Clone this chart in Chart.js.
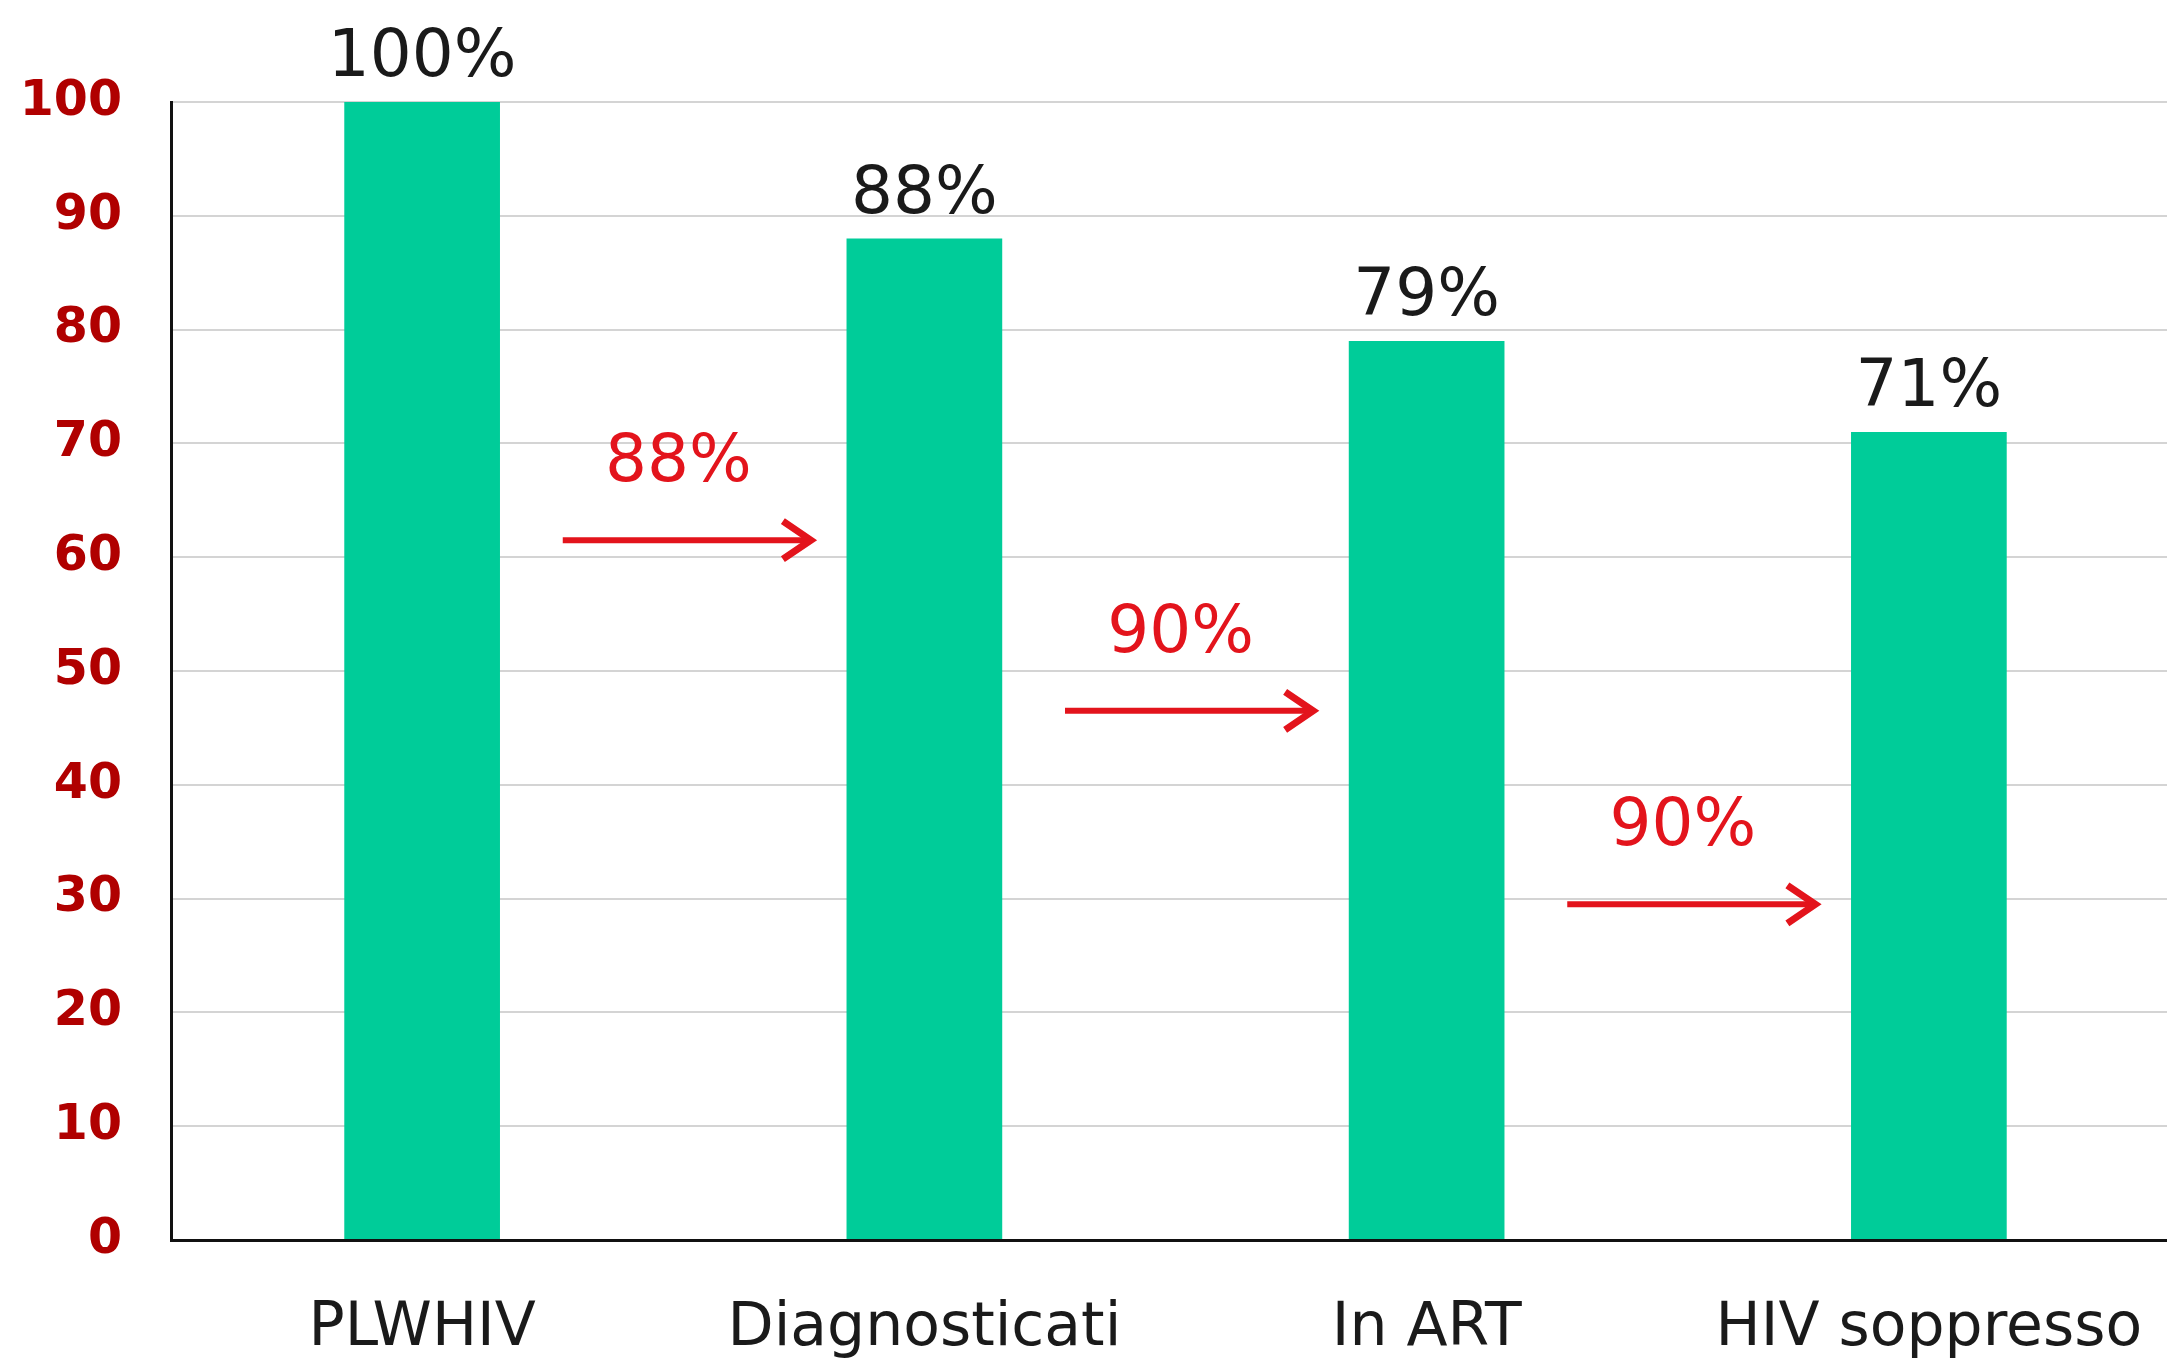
<!DOCTYPE html>
<html>
<head>
<meta charset="utf-8">
<script src="https://cdn.jsdelivr.net/npm/chart.js@4/dist/chart.umd.min.js"></script>
<style>
  html, body { margin: 0; padding: 0; background: #fff; overflow: hidden; }
  canvas { display: block; }
</style>
</head>
<body>
<!-- a little wider than the window: the plot runs past the right edge, as in the original -->
<canvas id="graficoCascata" width="2180" height="1359"></canvas>
<script>
const categorie = ['PLWHIV', 'Diagnosticati', 'In ART', 'HIV soppresso'];
const percentuali = [100, 88, 79, 71];
const passaggi = ['88%', '90%', '90%'];
// height (in % units) where each red arrow sits
const livelliFrecce = [61.5, 46.5, 29.5];
const tickY = [0, 10, 20, 30, 40, 50, 60, 70, 80, 90, 100];

const rosso = '#e3141c';
const fontBase = 'DejaVu Sans, Verdana, sans-serif';

const etichette = {
  id: 'etichette',
  afterDatasetsDraw(chart) {
    const ctx = chart.ctx;
    const meta = chart.getDatasetMeta(0);
    const x = chart.scales.x;
    const y = chart.scales.y;
    ctx.save();
    // value labels above bars
    ctx.fillStyle = '#1a1a1a';
    ctx.font = '66px ' + fontBase;
    ctx.textAlign = 'center';
    ctx.textBaseline = 'alphabetic';
    meta.data.forEach(function(bar, i) {
      ctx.fillText(percentuali[i] + '%', bar.x, bar.y - 26);
    });
    // arrows between bars
    ctx.strokeStyle = rosso;
    ctx.fillStyle = rosso;
    ctx.lineCap = 'butt';
    ctx.lineJoin = 'miter';
    passaggi.forEach(function(testo, i) {
      const x1 = x.getPixelForValue(i + 0.28);
      const x2 = x.getPixelForValue(i + 0.78);
      const yy = y.getPixelForValue(livelliFrecce[i]);
      ctx.lineWidth = 6;
      ctx.beginPath();
      ctx.moveTo(x1, yy);
      ctx.lineTo(x2 - 4, yy);
      ctx.stroke();
      ctx.lineWidth = 7;
      ctx.beginPath();
      ctx.moveTo(x2 - 31, yy - 19);
      ctx.lineTo(x2 - 3, yy);
      ctx.lineTo(x2 - 31, yy + 19);
      ctx.stroke();
      ctx.fillText(testo, x.getPixelForValue(i + 0.51), yy - 59);
    });
    ctx.restore();
  }
};

new Chart(document.getElementById('graficoCascata').getContext('2d'), {
  type: 'bar',
  data: {
    labels: categorie,
    datasets: [{
      data: percentuali,
      backgroundColor: '#00cc99',
      categoryPercentage: 1,
      barPercentage: 0.31
    }]
  },
  options: {
    responsive: false,
    animation: false,
    layout: { padding: { top: 102, left: 0, right: 0, bottom: 0 } },
    scales: {
      x: {
        grid: { display: false, drawTicks: false },
        border: { display: true, color: '#111', width: 3 },
        ticks: {
          color: '#1a1a1a',
          font: { family: fontBase, size: 60 },
          padding: 53,
          maxRotation: 0,
          autoSkip: false
        },
        afterFit: function(scale) {
          scale.height = 119;
          scale.paddingLeft = 0;
          scale.paddingRight = 0;
        }
      },
      y: {
        min: 0,
        max: 100,
        afterBuildTicks: function(scale) {
          scale.ticks = tickY.map(function(v) { return { value: v }; });
        },
        grid: { color: '#d4d4d4', lineWidth: 2, drawTicks: false },
        border: { display: true, color: '#111', width: 3 },
        ticks: {
          color: '#b00000',
          font: { family: fontBase, size: 49, weight: 'bold' },
          padding: 49
        },
        afterFit: function(scale) { scale.width = 171; }
      }
    },
    plugins: {
      legend: { display: false },
      tooltip: { enabled: false }
    }
  },
  plugins: [etichette]
});
</script>
</body>
</html>
